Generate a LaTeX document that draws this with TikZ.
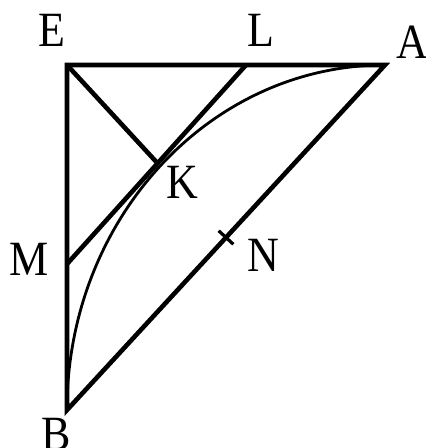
\documentclass[tikz,border=0pt]{standalone}
\usepackage{fontspec}
\setmainfont{Liberation Serif}
\usetikzlibrary{calc}
\begin{document}
\begin{tikzpicture}[x=1pt,y=1pt,
  heavy/.style={line width=4.6pt, line join=miter},
  arcline/.style={line width=2.8pt},
  lbl/.style={inner sep=0pt, font=\fontsize{44}{44}\selectfont}]
\useasboundingbox (0,0) rectangle (426,448);
\coordinate (E) at (67,383);
\coordinate (A) at (385,383);
\coordinate (B) at (67,38);
\coordinate (C) at (385,38);
\coordinate (L) at (246,383);
\coordinate (M) at (67,184);
\coordinate (K) at (intersection of E--C and L--M);
\coordinate (N) at ($(A)!0.5!(B)$);
\coordinate (N1) at ($(N)!10pt!90:(A)$);
\coordinate (N2) at ($(N)!10pt!-90:(A)$);
% arc
\draw[arcline] (B) arc[start angle=180, end angle=90, x radius=318, y radius=345];
% triangle and lines
\draw[heavy] (B) -- (E) -- (A) -- cycle;
\draw[heavy] (E) -- (K);
\draw[heavy] (L) -- (M);
\draw[line width=3.2pt] (N1) -- (N2);
% labels
\node[lbl] (lE) at (51.5,418) {\scalebox{1}[1.12]{E}};
\node[lbl] (lL) at (261,418) {\scalebox{1}[1.12]{L}};
\node[lbl] (lA) at (412,406) {\scalebox{1}[1.12]{A}};
\node[lbl] (lK) at (182,266) {\scalebox{1}[1.12]{K}};
\node[lbl] (lM) at (29,189) {\scalebox{1}[1.12]{M}};
\node[lbl] (lN) at (263,193) {\scalebox{1}[1.12]{N}};
\node[lbl] (lB) at (56,14) {\scalebox{1}[1.12]{B}};
\end{tikzpicture}
\end{document}
